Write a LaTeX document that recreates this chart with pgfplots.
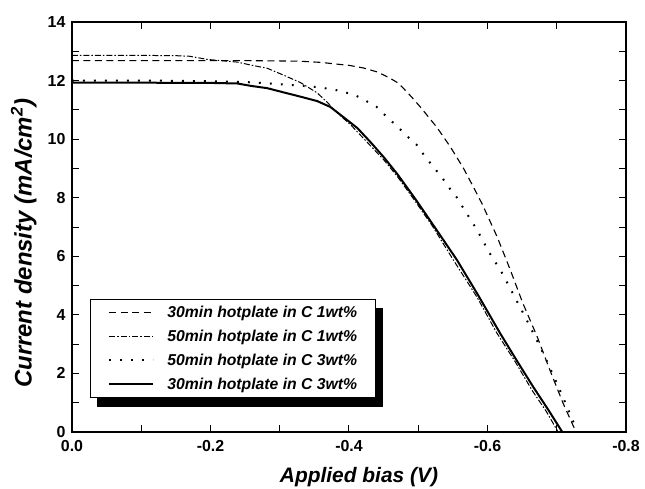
\documentclass[border=0pt]{standalone}
\usepackage{fontspec}
\setmainfont{Liberation Sans}
\usepackage{pgfplots}
\pgfplotsset{compat=1.18}
\usetikzlibrary{calc}
\pgfdeclarelayer{background}
\pgfsetlayers{background,main}

% J-V curves (current density in mA/cm^2 vs applied bias in V)
\pgfplotstableread{
V J
0      12.68
-0.05  12.68
-0.10  12.68
-0.15  12.68
-0.20  12.68
-0.25  12.68
-0.30  12.67
-0.33  12.66
-0.36  12.62
-0.383 12.56
-0.40  12.52
-0.421 12.43
-0.44  12.30
-0.45  12.19
-0.46  12.07
-0.47  11.93
-0.478 11.75
-0.49  11.45
-0.503 11.10
-0.515 10.75
-0.527 10.40
-0.546 9.75
-0.565 9.02
-0.58  8.35
-0.592 7.80
-0.614 6.66
-0.633 5.53
-0.651 4.40
-0.672 3.24
-0.69  2.12
-0.709 0.99
-0.724 0.20
-0.728 0
}\hotAone

\pgfplotstableread{
V J
0      12.86
-0.05  12.86
-0.10  12.86
-0.15  12.85
-0.17  12.83
-0.196 12.72
-0.22  12.67
-0.239 12.63
-0.258 12.53
-0.282 12.42
-0.305 12.19
-0.33  11.93
-0.354 11.58
-0.369 11.25
-0.377 11.04
-0.39  10.75
-0.402 10.50
-0.426 9.90
-0.45  9.30
-0.47  8.72
-0.492 8.00
-0.52  7.05
-0.55  5.90
-0.585 4.60
-0.613 3.40
-0.64  2.40
-0.665 1.40
-0.685 0.70
-0.702 0
}\hotBone

\pgfplotstableread{
V J
0      12.00
-0.05  12.00
-0.10  12.00
-0.15  11.99
-0.20  11.98
-0.25  11.95
-0.286 11.90
-0.315 11.85
-0.349 11.79
-0.377 11.70
-0.394 11.60
-0.409 11.50
-0.425 11.30
-0.44  11.10
-0.455 10.75
-0.469 10.45
-0.484 10.10
-0.498 9.80
-0.51  9.40
-0.522 9.05
-0.534 8.70
-0.546 8.30
-0.556 8.00
-0.565 7.65
-0.585 6.90
-0.602 6.15
-0.621 5.43
-0.637 4.71
-0.653 3.99
-0.669 3.24
-0.683 2.56
-0.698 1.78
-0.712 1.02
-0.724 0.34
-0.728 0
}\hotBthree

\pgfplotstableread{
V J
0      11.93
-0.05  11.93
-0.10  11.93
-0.15  11.92
-0.20  11.92
-0.239 11.90
-0.258 11.82
-0.282 11.74
-0.305 11.60
-0.33  11.45
-0.354 11.30
-0.373 11.10
-0.392 10.75
-0.412 10.38
-0.431 9.90
-0.45  9.39
-0.47  8.80
-0.496 7.95
-0.525 6.95
-0.556 5.87
-0.587 4.65
-0.618 3.38
-0.642 2.45
-0.666 1.54
-0.688 0.75
-0.708 0
}\hotAthree

\begin{document}
\begin{tikzpicture}
\begin{axis}[
  name=ax,
  scale only axis,
  width=554bp, height=410bp,
  x dir=reverse,
  xmin=-0.8, xmax=0, ymin=0, ymax=14,
  xtick={0,-0.2,-0.4,-0.6,-0.8},
  xticklabels={0.0,-0.2,-0.4,-0.6,-0.8},
  minor xtick={-0.1,-0.3,-0.5,-0.7},
  ytick={0,2,...,14},
  minor ytick={1,3,...,13},
  tick align=inside,
  major tick length=7bp, minor tick length=7bp,
  every tick/.style={black, line width=1bp},
  axis line style={line width=1.3bp},
  ticklabel style={font=\bfseries\fontsize{16}{16}\selectfont},
  /pgf/number format/assume math mode=true,
  xticklabel style={yshift=-5bp},
  yticklabel style={xshift=-3bp},
  xlabel={Applied bias (V)},
  ylabel={Current density (mA/cm\textsuperscript{2})},
  every axis x label/.style={at={(axis description cs:0.518,-0.122)}, anchor=base,
    font=\bfseries\itshape\fontsize{21}{21}\selectfont},
  every axis y label/.style={at={(axis description cs:-0.087,0.46)}, rotate=90, anchor=center,
    font=\bfseries\itshape\fontsize{24}{24}\selectfont},
  legend cell align=left,
  legend image code/.code={\draw[#1] (0bp,0bp) -- (44bp,0bp);},
  legend style={at={(rel axis cs:0.0325,0.083)}, anchor=south west, name=leg,
    draw=black, line width=0.8bp, fill=white,
    font=\bfseries\itshape\fontsize{15.8}{15.8}\selectfont,
    nodes={inner sep=0bp}, column sep=13bp, row sep=11bp,
    inner xsep=18bp, inner ysep=7bp},
]
\addplot[black, line width=1.1bp, dash pattern=on 7bp off 4.5bp] table[x=V,y=J] {\hotAone};
\addlegendentry{30min hotplate in C 1wt\%}
\addplot[black, line width=1bp, dash pattern=on 6bp off 2bp on 1.5bp off 2bp] table[x=V,y=J] {\hotBone};
\addlegendentry{50min hotplate in C 1wt\%}
\addplot[black, line width=2bp, dash pattern=on 1.8bp off 9.2bp] table[x=V,y=J] {\hotBthree};
\addlegendentry{50min hotplate in C 3wt\%}
\addplot[black, line width=2bp] table[x=V,y=J] {\hotAthree};
\addlegendentry{30min hotplate in C 3wt\%}
\end{axis}
% solid shadow behind the legend box
\begin{pgfonlayer}{background}
\fill[black] ($(leg.south west)+(7bp,-9bp)$) rectangle ($(leg.north east)+(7bp,-9bp)$);
\end{pgfonlayer}
\pgfresetboundingbox
\path[use as bounding box] ($(ax.south west)+(-72bp,-56bp)$) rectangle ($(ax.north east)+(19bp,22bp)$);
\end{tikzpicture}
\end{document}
